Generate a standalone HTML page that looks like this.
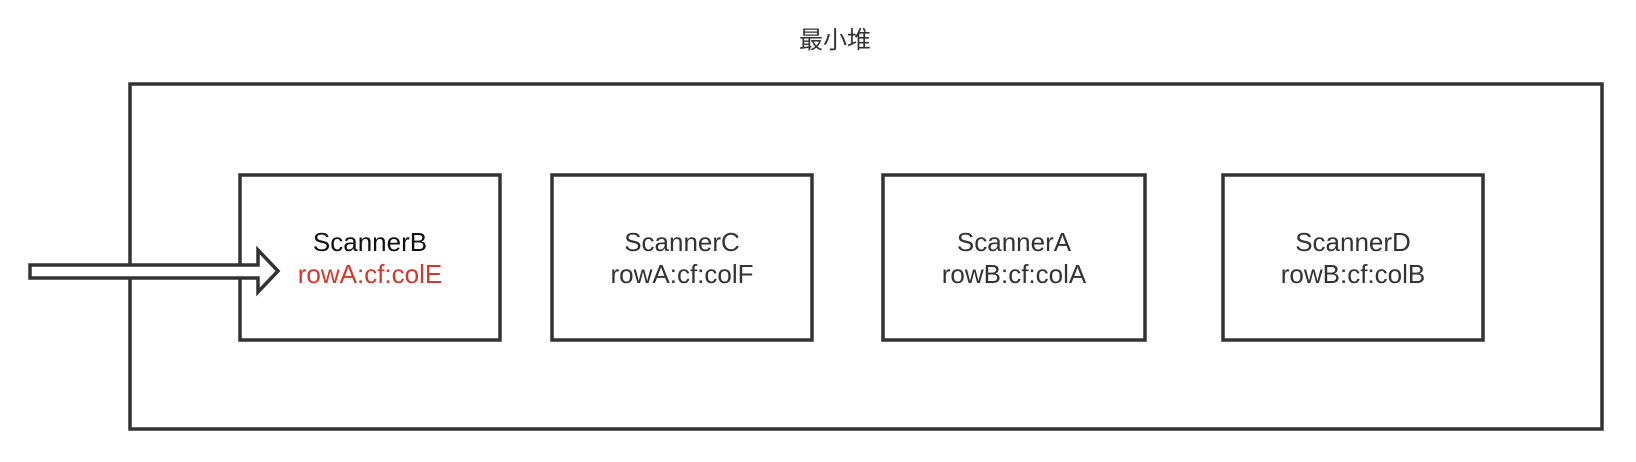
<!DOCTYPE html>
<html><head><meta charset="utf-8"><style>
html,body{margin:0;padding:0;background:#fff;width:1636px;height:462px;overflow:hidden}
</style></head><body>
<svg width="1636" height="462" xmlns="http://www.w3.org/2000/svg" style="display:block">
<text x="835" y="48" text-anchor="middle" font-family="Liberation Sans, Noto Sans CJK SC, sans-serif" font-size="24" fill="#333">最小堆</text>
<g fill="none" stroke="#333" stroke-width="3.5">
<rect x="130" y="84" width="1472" height="345"/>
<rect x="240" y="175" width="260" height="165"/>
<rect x="552" y="175" width="260" height="165"/>
<rect x="883" y="175" width="262" height="165"/>
<rect x="1223" y="175" width="260" height="165"/>
</g>
<polygon points="30,265 258,265 258,250 278,271 258,292 258,278 30,278" fill="#fff" stroke="#333" stroke-width="3.5" stroke-linejoin="miter"/>
<g font-family="Liberation Sans, sans-serif" font-size="26" text-anchor="middle" fill="#333">
<text x="370" y="251" fill="#111">ScannerB</text>
<text x="370" y="283" fill="#d4372c">rowA:cf:colE</text>
<text x="682" y="251">ScannerC</text>
<text x="682" y="283">rowA:cf:colF</text>
<text x="1014" y="251">ScannerA</text>
<text x="1014" y="283">rowB:cf:colA</text>
<text x="1353" y="251">ScannerD</text>
<text x="1353" y="283">rowB:cf:colB</text>
</g>
</svg>
</body></html>
